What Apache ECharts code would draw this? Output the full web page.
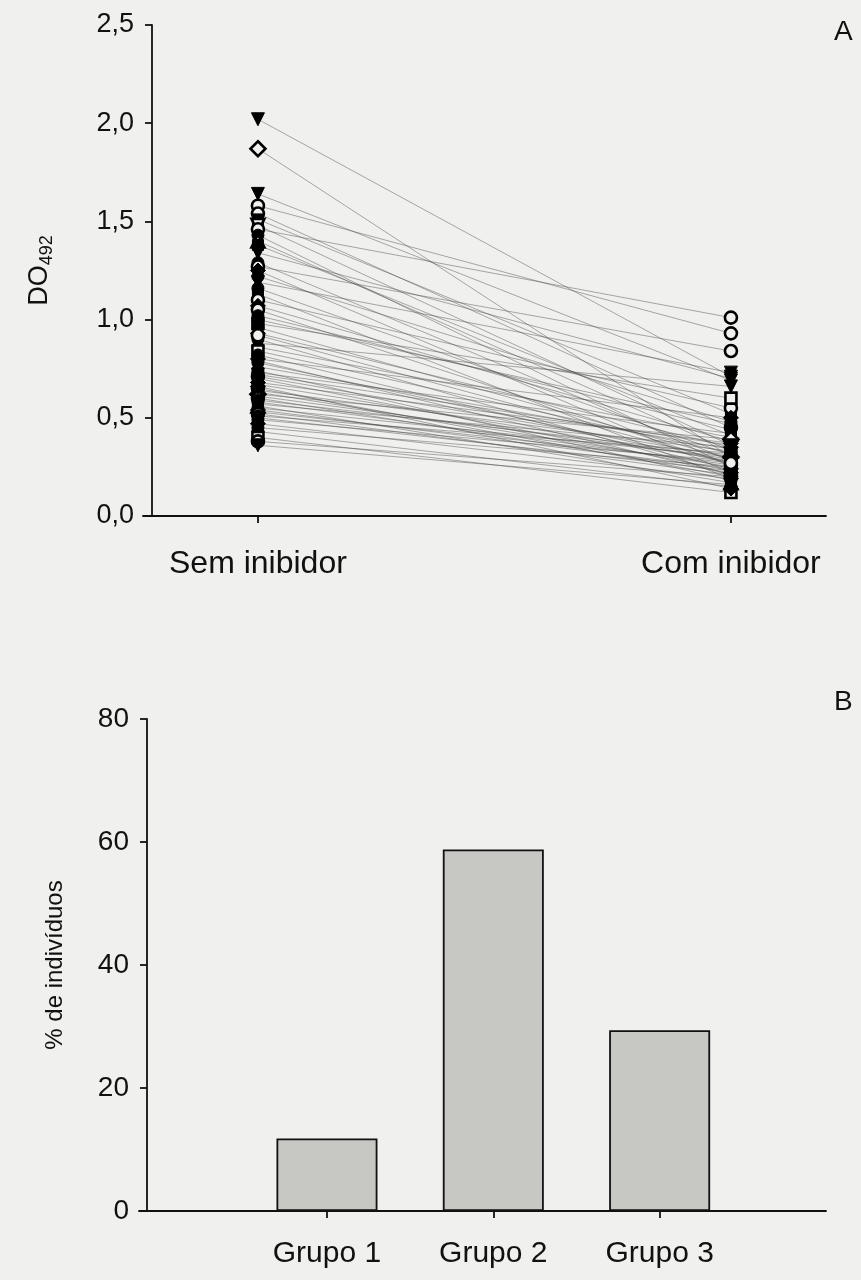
<!DOCTYPE html>
<html>
<head>
<meta charset="utf-8">
<script src="https://cdn.jsdelivr.net/npm/echarts@6/dist/echarts.min.js"></script>
<style>
  html, body { margin: 0; padding: 0; background: #f0f1ee; }
  #chart { width: 861px; height: 1280px; }
</style>
</head>
<body>
<div id="chart"></div>
<script>
// Panel A: optical density (DO492) per individual, without and with inhibitor
const conditions = ['Sem inibidor', 'Com inibidor'];
const semInibidor = [
  2.02, 1.87, 1.64, 1.58, 1.54, 1.51, 1.48, 1.46, 1.43, 1.40,
  1.38, 1.29, 1.27, 1.25, 1.22, 1.19, 1.16, 1.13, 1.10, 1.07,
  1.05, 1.02, 0.98, 0.96, 0.93, 0.90, 0.88, 0.86, 0.84, 0.82,
  0.80, 0.78, 0.76, 0.74, 0.73, 0.71, 0.70, 0.68, 0.67, 0.65,
  0.64, 0.63, 0.62, 0.61, 0.60, 0.59, 0.58, 0.57, 0.56, 0.55,
  0.54, 0.53, 0.52, 0.51, 0.50, 0.49, 0.47, 0.45, 0.43, 0.40,
  0.38, 0.36, 1.34, 1.00, 0.92, 0.79, 0.66, 0.72
];
const comInibidor = [
  0.71, 0.30, 0.69, 0.93, 0.45, 0.52, 0.36, 1.01, 0.25, 0.33,
  0.41, 0.28, 0.84, 0.22, 0.48, 0.73, 0.31, 0.19, 0.55, 0.38,
  0.26, 0.44, 0.60, 0.29, 0.35, 0.21, 0.66, 0.40, 0.32, 0.24,
  0.50, 0.27, 0.34, 0.18, 0.42, 0.30, 0.23, 0.37, 0.28, 0.20,
  0.33, 0.25, 0.39, 0.29, 0.22, 0.31, 0.26, 0.35, 0.17, 0.30,
  0.24, 0.27, 0.21, 0.32, 0.23, 0.28, 0.19, 0.25, 0.15, 0.12,
  0.20, 0.16, 0.70, 0.47, 0.27, 0.21, 0.14, 0.36
];

// Panel B: percentage of individuals per group
const grupos = ['Grupo 1', 'Grupo 2', 'Grupo 3'];
const pctIndividuos = [11.8, 58.8, 29.4];

// Symbol used for each individual (f = filled, o = open; c circle, s square,
// d diamond, tu/td triangle up/down)
const markerKinds = [
  'ftd','od','ftd','oc','oc','fs','otd','oc','fc','otu',
  'fs','fc','oc','fd','fc','ftd','fc','fs','oc','fd',
  'oc','fc','os','fc','fd','fc','ftd','fc','os','fc',
  'fd','fc','ftu','fc','fs','oc','fc','fd','fc','oc',
  'ftu','fc','od','fc','oc','fs','fc','ftd','otu','fc',
  'fd','fc','oc','fc','fs','fc','fd','fc','fc','os',
  'oc','ftd','ftd','fc','oc','fc','fd','ftd'
];

const BG = '#f0f1ee';
const FONT = '"Liberation Sans", Arial, Helvetica, sans-serif';
const INK = '#111';

function markerStyle(kind) {
  const filled = kind[0] === 'f';
  const k = kind.slice(1);
  let symbol = 'circle', rotate = 0, size = 12;
  if (k === 's') { symbol = 'rect'; size = 11; }
  else if (k === 'd') { symbol = 'diamond'; size = 15; }
  else if (k === 'tu') { symbol = 'triangle'; size = 13; }
  else if (k === 'td') { symbol = 'triangle'; rotate = 180; size = 13; }
  return {
    symbol, symbolRotate: rotate, symbolSize: size,
    itemStyle: filled
      ? { color: '#000', borderColor: '#000', borderWidth: 1, opacity: 1 }
      : { color: BG, borderColor: '#000', borderWidth: 2.6, opacity: 1 }
  };
}

const x0 = 0, x1 = 1;   // positions of the two conditions on the x scale

const lineSeries = semInibidor.map((v, i) => ({
  type: 'line',
  xAxisIndex: 0, yAxisIndex: 0,
  data: [[x0, v], [x1, comInibidor[i]]],
  showSymbol: false,
  silent: true,
  z: 2,
  lineStyle: { color: 'rgba(70,70,70,0.5)', width: 0.9 }
}));

const markerData = [];
semInibidor.forEach((v, i) => {
  const st = markerStyle(markerKinds[i]);
  markerData.push(Object.assign({ value: [x0, v] }, st));
  markerData.push(Object.assign({ value: [x1, comInibidor[i]] }, st));
});

const commaFmt = v => v.toFixed(1).replace('.', ',');

const option = {
  backgroundColor: BG,
  animation: false,
  textStyle: { fontFamily: FONT, color: INK },
  grid: [
    { left: 143, right: 35, top: 25, bottom: 764 },
    { left: 139, right: 35, top: 719, bottom: 69 }
  ],
  xAxis: [
    {
      gridIndex: 0, type: 'value', min: -0.243, max: 1.201,
      splitLine: { show: false },
      axisLine: { onZero: false, lineStyle: { color: INK, width: 1.8 } },
      axisTick: { customValues: [x0, x1], length: 7, lineStyle: { color: INK, width: 1.8 } },
      axisLabel: {
        customValues: [x0, x1], margin: 32, fontSize: 32, color: INK, fontFamily: FONT,
        formatter: v => conditions[Math.round(v)]
      }
    },
    {
      gridIndex: 1, type: 'value', min: -0.13, max: 4,
      splitLine: { show: false },
      axisLine: { onZero: false, lineStyle: { color: INK, width: 1.8 } },
      axisTick: { customValues: [1, 2, 3], length: 7, lineStyle: { color: INK, width: 1.8 } },
      axisLabel: {
        customValues: [1, 2, 3], margin: 28, fontSize: 30, color: INK, fontFamily: FONT,
        formatter: v => grupos[Math.round(v) - 1]
      }
    }
  ],
  yAxis: [
    {
      gridIndex: 0, type: 'value', min: 0, max: 2.5, interval: 0.5, offset: -9,
      splitLine: { show: false },
      axisLine: { show: true, onZero: false, lineStyle: { color: INK, width: 1.8 } },
      axisTick: { show: true, length: 7, lineStyle: { color: INK, width: 1.8 } },
      axisLabel: { margin: 18, fontSize: 27, color: INK, fontFamily: FONT, formatter: commaFmt },
      name: 'DO{sub|492}', nameLocation: 'middle', nameGap: 96, nameRotate: 90,
      nameTextStyle: {
        fontSize: 27, color: INK, fontFamily: FONT,
        rich: { sub: { fontSize: 18, color: INK, fontFamily: FONT, verticalAlign: 'bottom', padding: [14, 0, 0, 0] } }
      }
    },
    {
      gridIndex: 1, type: 'value', min: 0, max: 80, interval: 20, offset: -8,
      splitLine: { show: false },
      axisLine: { show: true, onZero: false, lineStyle: { color: INK, width: 1.8 } },
      axisTick: { show: true, length: 7, lineStyle: { color: INK, width: 1.8 } },
      axisLabel: { margin: 18, fontSize: 28, color: INK, fontFamily: FONT },
      name: '% de indivíduos', nameLocation: 'middle', nameGap: 80, nameRotate: 90,
      nameTextStyle: { fontSize: 24, color: INK, fontFamily: FONT }
    }
  ],
  graphic: [
    { type: 'text', left: 834, top: 18, style: { text: 'A', fontSize: 28, fill: INK, fontFamily: FONT } },
    { type: 'text', left: 834, top: 688, style: { text: 'B', fontSize: 28, fill: INK, fontFamily: FONT } }
  ],
  series: [
    ...lineSeries,
    {
      type: 'scatter', xAxisIndex: 0, yAxisIndex: 0, z: 3, silent: true,
      itemStyle: { opacity: 1 },
      data: markerData
    },
    {
      type: 'bar', xAxisIndex: 1, yAxisIndex: 1, barWidth: 101,
      data: pctIndividuos.map((p, i) => [i + 1, p]),
      itemStyle: { color: '#c7c8c3', borderColor: INK, borderWidth: 1.8 }
    }
  ]
};

echarts.init(document.getElementById('chart'), null, { renderer: 'canvas' }).setOption(option);
</script>
</body>
</html>
